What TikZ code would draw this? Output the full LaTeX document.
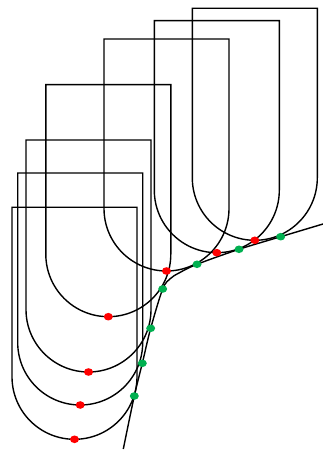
\documentclass[tikz,border=0pt]{standalone}
\definecolor{dotred}{RGB}{255,0,0}
\definecolor{dotgreen}{RGB}{0,176,80}
\tikzset{
  ushape/.style={draw=black, line width=1.4pt, line join=miter},
  envelope/.style={draw=black, line width=1.4pt},
  reddot/.style={ellipse, fill=dotred, inner sep=0pt, minimum width=9pt, minimum height=7.6pt},
  greendot/.style={ellipse, fill=dotgreen, inner sep=0pt, minimum width=9pt, minimum height=7.6pt}
}
\usetikzlibrary{shapes.geometric}
\begin{document}
\begin{tikzpicture}[x=1pt,y=1pt]
\useasboundingbox (0,0) rectangle (323,450);
% U shapes: cx / Ytop / Ycy
\foreach \cx/\yt/\yc in {254.8/441.7/272.2, 216.8/429.3/259.8, 166.5/411/241.5, 108.3/365.3/195.8, 88.5/310/140.5, 80.2/277/107.5, 74.5/242.7/73.2}{
  \draw[ushape] (\cx-62.5,\yc) -- (\cx-62.5,\yt) -- (\cx+62.5,\yt) -- (\cx+62.5,\yc)
     arc[start angle=0, end angle=-180, radius=62.5];
}
% envelope curve
\draw[envelope] plot[smooth, tension=0.55] coordinates {(123.3,1) (134.3,54) (142.3,86.7) (150.7,121.7) (162.7,161) (170.5,171.5) (179,177) (197,185.7) (239,200.7) (280.7,213.3) (323,226)};
% red dots (lowest points of arcs)
\foreach \cx/\yc [count=\i] in {254.8/272.2, 216.8/259.8, 166.5/241.5, 108.3/195.8, 88.5/140.5, 80.2/107.5, 74.5/73.2}{
  \node[reddot] (r\i) at (\cx,\yc-62.5) {};
}
% green dots (tangent points)
\foreach \p [count=\i] in {(280.7,213.3),(239,200.7),(197,185.7),(162.7,161),(150.7,121.7),(142.3,86.7),(134.3,54)}{
  \node[greendot] (g\i) at \p {};
}
\end{tikzpicture}
\end{document}
